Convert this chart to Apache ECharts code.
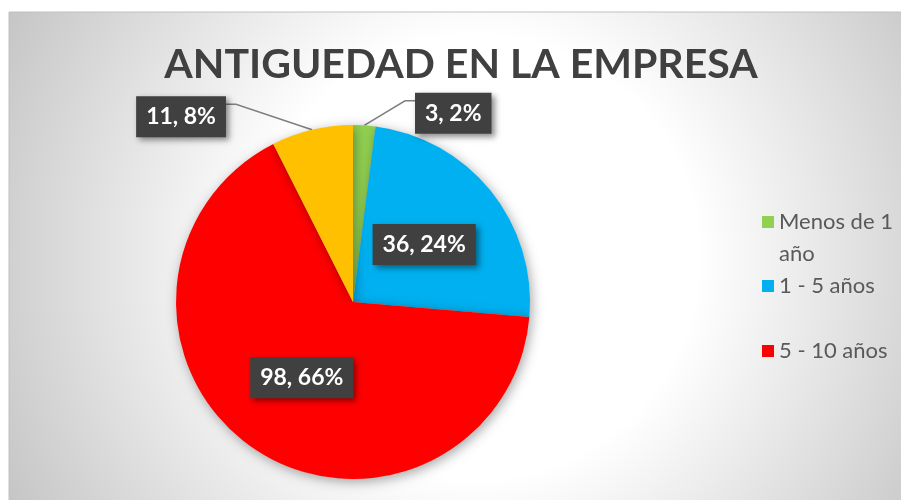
<!DOCTYPE html>
<html><head><meta charset="utf-8">
<script src="https://cdn.jsdelivr.net/npm/echarts@6/dist/echarts.min.js"></script>
<style>html,body{margin:0;padding:0;background:#fff}#c{width:901px;height:500px}</style>
</head><body><div id="c"></div>
<script>
var titleText = 'ANTIGUEDAD EN LA EMPRESA';
var categories = ['Menos de 1 año', '1 - 5 años', '5 - 10 años', 'Más de 10 años'];
var values = [3, 36, 98, 11];
var percentLabels = ['2%', '24%', '66%', '8%'];
var colors = ['#92D050', '#00B0F0', '#FF0000', '#FFC000'];
var legendItems = ['Menos de 1 año', '1 - 5 años', '5 - 10 años'];

var chart = echarts.init(document.getElementById('c'));
var FONT = 'Lato';
var data = categories.map(function (n, i) {
  var outside = (i === 0 || i === 3);
  return {
    name: n, value: values[i],
    itemStyle: { color: colors[i] },
    label: { position: outside ? 'outside' : 'inside' },
    labelLine: { show: outside }
  };
});
// offsets of outside label centres from their anchor point on the slice edge
var outsideOffsets = { 0: [89, -12], 3: [-131, -13] };

var legendBase = {
  orient: 'vertical', left: 762, padding: 0, itemWidth: 12, itemHeight: 12, icon: 'rect',
  itemGap: 0,
  textStyle: { fontFamily: FONT, fontSize: 22, color: '#595959', lineHeight: 32 }
};
chart.setOption({
  animation: false,
  graphic: [{
    type: 'rect', z: -10, silent: true,
    shape: { x: 9, y: 12, width: 900, height: 490 },
    style: {
      fill: { type: 'radial', x: 0.52, y: 0.5, r: 1.07,
        colorStops: [{ offset: 0, color: '#ffffff' }, { offset: 0.42, color: '#ffffff' }, { offset: 1, color: '#c6c6c6' }] },
      stroke: '#c0c0c0', lineWidth: 1
    }
  }],
  title: {
    text: titleText, left: 461, top: 44, padding: 0, textAlign: 'center',
    textStyle: { fontFamily: FONT, fontWeight: 'bold', fontSize: 41, color: '#404040' }
  },
  legend: [
    Object.assign({}, legendBase, { data: [legendItems[0]], top: 174,
      formatter: function () { return '\nMenos de 1\naño'; } }),
    Object.assign({}, legendBase, { data: [legendItems[1]], top: 270 }),
    Object.assign({}, legendBase, { data: [legendItems[2]], top: 335 })
  ],
  series: [{
    type: 'pie',
    center: [353, 302], radius: 177,
    startAngle: 90, clockwise: true,
    data: data,
    itemStyle: { shadowBlur: 12, shadowColor: 'rgba(0,0,0,0.35)', shadowOffsetX: 2, shadowOffsetY: 3 },
    label: {
      formatter: function (p) { return p.value + ', ' + percentLabels[p.dataIndex]; },
      fontFamily: FONT, fontWeight: 'bold', fontSize: 23, color: '#ffffff',
      backgroundColor: '#404040', padding: [9, 10, 9, 10], lineHeight: 23,
      shadowBlur: 6, shadowColor: 'rgba(0,0,0,0.45)', shadowOffsetX: 3, shadowOffsetY: 3
    },
    labelLine: { lineStyle: { color: '#7f7f7f', width: 1.5 } },
    labelLayout: function (p) {
      var off = outsideOffsets[p.dataIndex];
      if (!off || !p.labelLinePoints) return {};
      var a = p.labelLinePoints[0];
      var cx = a[0] + off[0], cy = a[1] + off[1];
      var hw = p.labelRect.width / 2;
      var ey = cy - p.labelRect.height / 2 + 8;
      var edgeX = off[0] > 0 ? cx - hw : cx + hw;
      var bendX = off[0] > 0 ? edgeX - 10 : edgeX + 10;
      return {
        x: cx, y: cy, align: 'center', verticalAlign: 'middle',
        labelLinePoints: [[a[0], a[1]], [bendX, ey], [edgeX, ey]]
      };
    }
  }]
});
</script></body></html>
